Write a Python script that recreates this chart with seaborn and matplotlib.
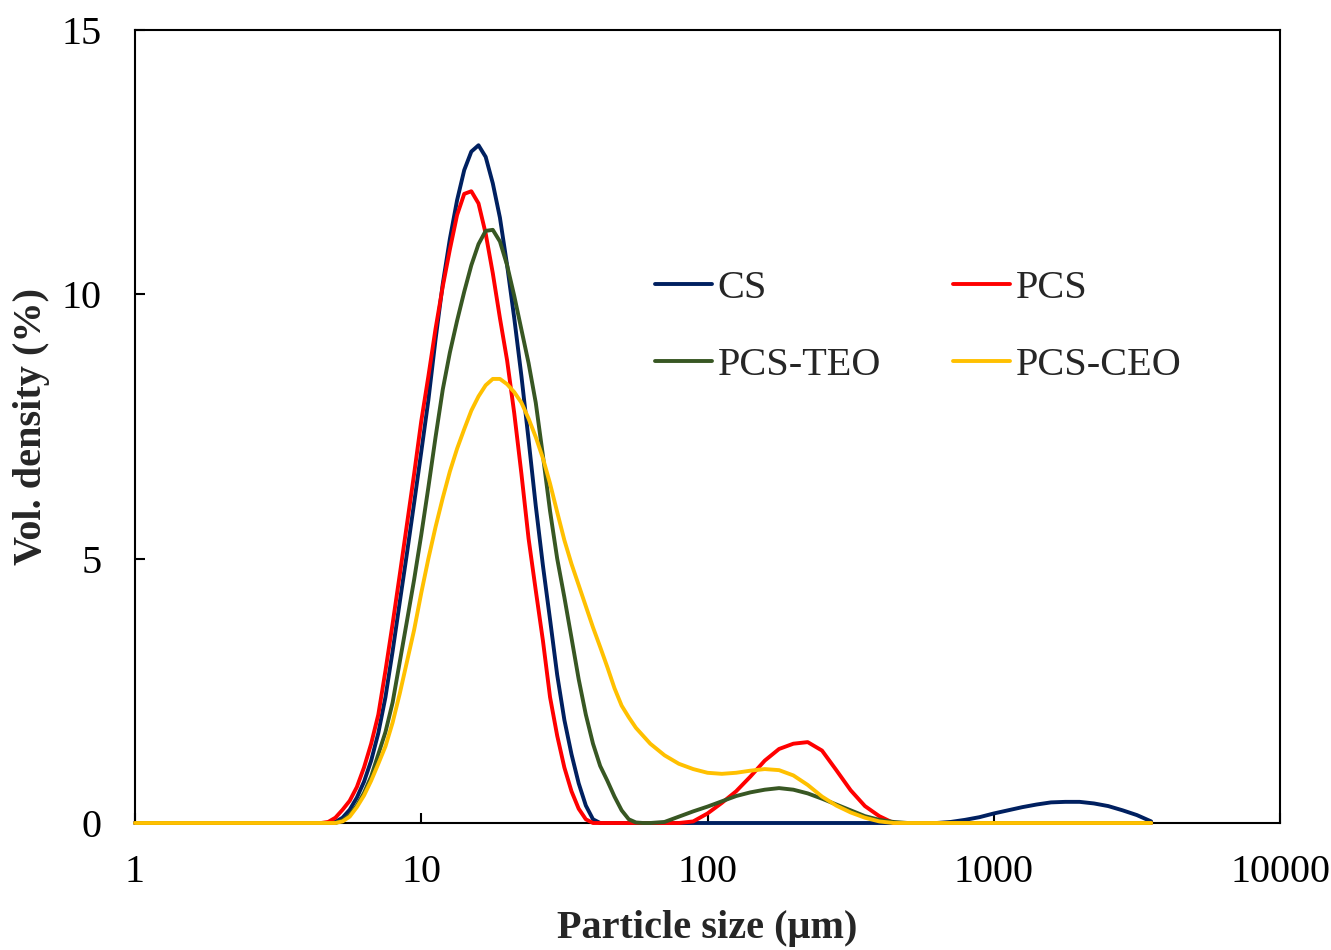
import numpy as np
import pandas as pd
import matplotlib
matplotlib.use("Agg")
import matplotlib.pyplot as plt
import seaborn as sns
from matplotlib.ticker import FixedLocator, FixedFormatter, NullLocator

# ---------------- data ----------------
sizes_um = [1.0, 1.122, 1.259, 1.413, 1.585, 1.778, 1.995, 2.239, 2.512, 2.818,
            3.162, 3.548, 3.981,
            4.467, 4.732, 5.012, 5.309, 5.623, 5.957, 6.310, 6.684, 7.079, 7.498,
            7.943, 8.414, 8.913, 9.441, 10.0, 10.59, 11.22, 11.89, 12.59, 13.34,
            14.13, 14.96, 15.85, 16.79, 17.78, 18.83, 19.95, 21.13, 22.39, 23.71,
            25.12, 26.61, 28.18, 29.85, 31.62, 33.49, 35.48, 37.58, 39.81, 42.17,
            44.67, 47.32, 50.12, 53.09, 56.23, 59.56, 63.10,
            70.79, 79.43, 89.13, 100.0, 112.2, 125.9, 141.3, 158.5, 177.8, 199.5,
            223.9, 251.2, 281.8, 316.2, 354.8, 398.1, 446.7, 501.2, 562.3, 631.0,
            707.9, 794.3, 891.3, 1000, 1122, 1259, 1413, 1585, 1778, 1995,
            2239, 2512, 2818, 3162, 3548]

cs = [0, 0, 0, 0, 0, 0, 0, 0, 0, 0,
      0, 0, 0,
      0, 0, 0.02, 0.1, 0.25, 0.48, 0.78, 1.18, 1.7, 2.38,
      3.25, 4.18, 5.1, 6.05, 7.02, 8.0, 9.15, 10.2, 11.05, 11.78,
      12.35, 12.7, 12.82, 12.6, 12.1, 11.45, 10.55, 9.55, 8.45, 7.25,
      6.0, 4.87, 3.85, 2.8, 1.95, 1.3, 0.75, 0.33, 0.07, 0.0,
      0, 0, 0, 0, 0, 0, 0,
      0, 0, 0, 0, 0, 0, 0, 0, 0, 0,
      0, 0, 0, 0, 0, 0, 0, 0, 0, 0,
      0.02, 0.06, 0.11, 0.18, 0.24, 0.30, 0.35, 0.39, 0.40, 0.40,
      0.37, 0.32, 0.24, 0.15, 0.03]

pcs = [0, 0, 0, 0, 0, 0, 0, 0, 0, 0,
       0, 0, 0,
       0, 0.02, 0.1, 0.25, 0.42, 0.68, 1.05, 1.5, 2.05, 2.88,
       3.77, 4.7, 5.65, 6.6, 7.6, 8.45, 9.35, 10.15, 10.85, 11.5,
       11.9, 11.95, 11.72, 11.15, 10.4, 9.55, 8.75, 7.75, 6.6, 5.38,
       4.4, 3.45, 2.38, 1.65, 1.05, 0.6, 0.27, 0.07, 0.0, 0,
       0, 0, 0, 0, 0, 0, 0,
       0, 0, 0.03, 0.18, 0.38, 0.6, 0.88, 1.18, 1.4, 1.5,
       1.53, 1.37, 1.0, 0.62, 0.32, 0.13, 0, 0, 0, 0,
       0, 0, 0, 0, 0, 0, 0, 0, 0, 0,
       0, 0, 0, 0, 0]

pcs_teo = [0, 0, 0, 0, 0, 0, 0, 0, 0, 0,
           0, 0, 0,
           0, 0, 0, 0.05, 0.15, 0.33, 0.57, 0.88, 1.3, 1.72,
           2.28, 3.05, 3.82, 4.6, 5.45, 6.35, 7.3, 8.2, 8.9, 9.5,
           10.05, 10.55, 10.95, 11.2, 11.22, 11.0, 10.55, 9.97, 9.33, 8.7,
           7.95, 6.95, 5.9, 5.0, 4.27, 3.5, 2.72, 2.05, 1.5, 1.08,
           0.8, 0.5, 0.24, 0.07, 0.01, 0, 0,
           0.02, 0.12, 0.22, 0.31, 0.41, 0.51, 0.58, 0.63, 0.66, 0.63,
           0.56, 0.46, 0.35, 0.24, 0.13, 0.06, 0.02, 0, 0, 0,
           0, 0, 0, 0, 0, 0, 0, 0, 0, 0,
           0, 0, 0, 0, 0]

pcs_ceo = [0, 0, 0, 0, 0, 0, 0, 0, 0, 0,
           0, 0, 0,
           0, 0, 0, 0.03, 0.12, 0.3, 0.52, 0.8, 1.12, 1.45,
           1.9, 2.45, 3.05, 3.65, 4.35, 5.0, 5.6, 6.15, 6.65, 7.08,
           7.45, 7.8, 8.07, 8.28, 8.4, 8.4, 8.3, 8.15, 7.95, 7.65,
           7.3, 6.9, 6.42, 5.88, 5.35, 4.9, 4.5, 4.1, 3.7, 3.33,
           2.95, 2.55, 2.22, 2.0, 1.8, 1.65, 1.5,
           1.28, 1.12, 1.02, 0.95, 0.93, 0.95, 0.99, 1.02, 1.0, 0.9,
           0.72, 0.5, 0.33, 0.2, 0.1, 0.03, 0, 0, 0, 0,
           0, 0, 0, 0, 0, 0, 0, 0, 0, 0,
           0, 0, 0, 0, 0]

series_names = ["CS", "PCS", "PCS-TEO", "PCS-CEO"]
series_colors = ["#002060", "#FF0000", "#385723", "#FFC000"]
x_ticks = [1, 10, 100, 1000, 10000]
x_tick_labels = ["1", "10", "100", "1000", "10000"]
y_ticks = [0, 5, 10, 15]
x_label = "Particle size (μm)"
y_label = "Vol. density (%)"

# ---------------- build long-form table ----------------
frames = []
for name, vals in zip(series_names, [cs, pcs, pcs_teo, pcs_ceo]):
    frames.append(pd.DataFrame({"size": sizes_um, "density": vals, "sample": name}))
df = pd.concat(frames, ignore_index=True)

# ---------------- style ----------------
sns.set_theme(style="ticks")
plt.rcParams["font.family"] = ["Liberation Serif", "DejaVu Serif"]
FS = 29

fig = plt.figure(figsize=(13.31, 9.5), dpi=100)
ax = fig.add_axes([135 / 1331, 1 - 823 / 950, (1280 - 135) / 1331, (823 - 30) / 950])
ax.set_xscale("log")

sns.lineplot(data=df, x="size", y="density", hue="sample", hue_order=series_names,
             palette=series_colors, linewidth=2.8, estimator=None, sort=False, ax=ax)
for ln in ax.get_lines():
    ln.set_clip_on(False)
    ln.set_zorder(3)
    ln.set_solid_joinstyle("round")

ax.set_xlim(1, 10000)
ax.set_ylim(0, 15)
ax.xaxis.set_major_locator(FixedLocator(x_ticks))
ax.xaxis.set_major_formatter(FixedFormatter(x_tick_labels))
ax.xaxis.set_minor_locator(NullLocator())
ax.yaxis.set_major_locator(FixedLocator(y_ticks))
ax.yaxis.set_minor_locator(NullLocator())

ax.tick_params(axis="both", which="major", direction="in", length=7, width=1.5,
               color="black", labelcolor="black", labelsize=FS)
ax.tick_params(axis="x", pad=22)
ax.tick_params(axis="y", pad=24)

for sp in ax.spines.values():
    sp.set_visible(True)
    sp.set_color("black")
    sp.set_linewidth(1.5)

ax.set_xlabel(x_label, fontsize=FS, fontweight="bold", labelpad=14)
ax.set_ylabel(y_label, fontsize=FS, fontweight="bold", labelpad=8)

handles, labels = ax.get_legend_handles_labels()
order = [0, 2, 1, 3]
leg = ax.legend([handles[i] for i in order], [labels[i] for i in order], ncol=2,
                frameon=False, loc="upper left", bbox_to_anchor=(0.454, 0.6974),
                borderpad=0, borderaxespad=0, handlelength=1.41, handletextpad=0.15,
                columnspacing=1.79, labelspacing=0.98, fontsize=FS)
for h in leg.get_lines():
    h.set_linewidth(2.8)

fig.savefig("out.png", dpi=100, facecolor="white")
